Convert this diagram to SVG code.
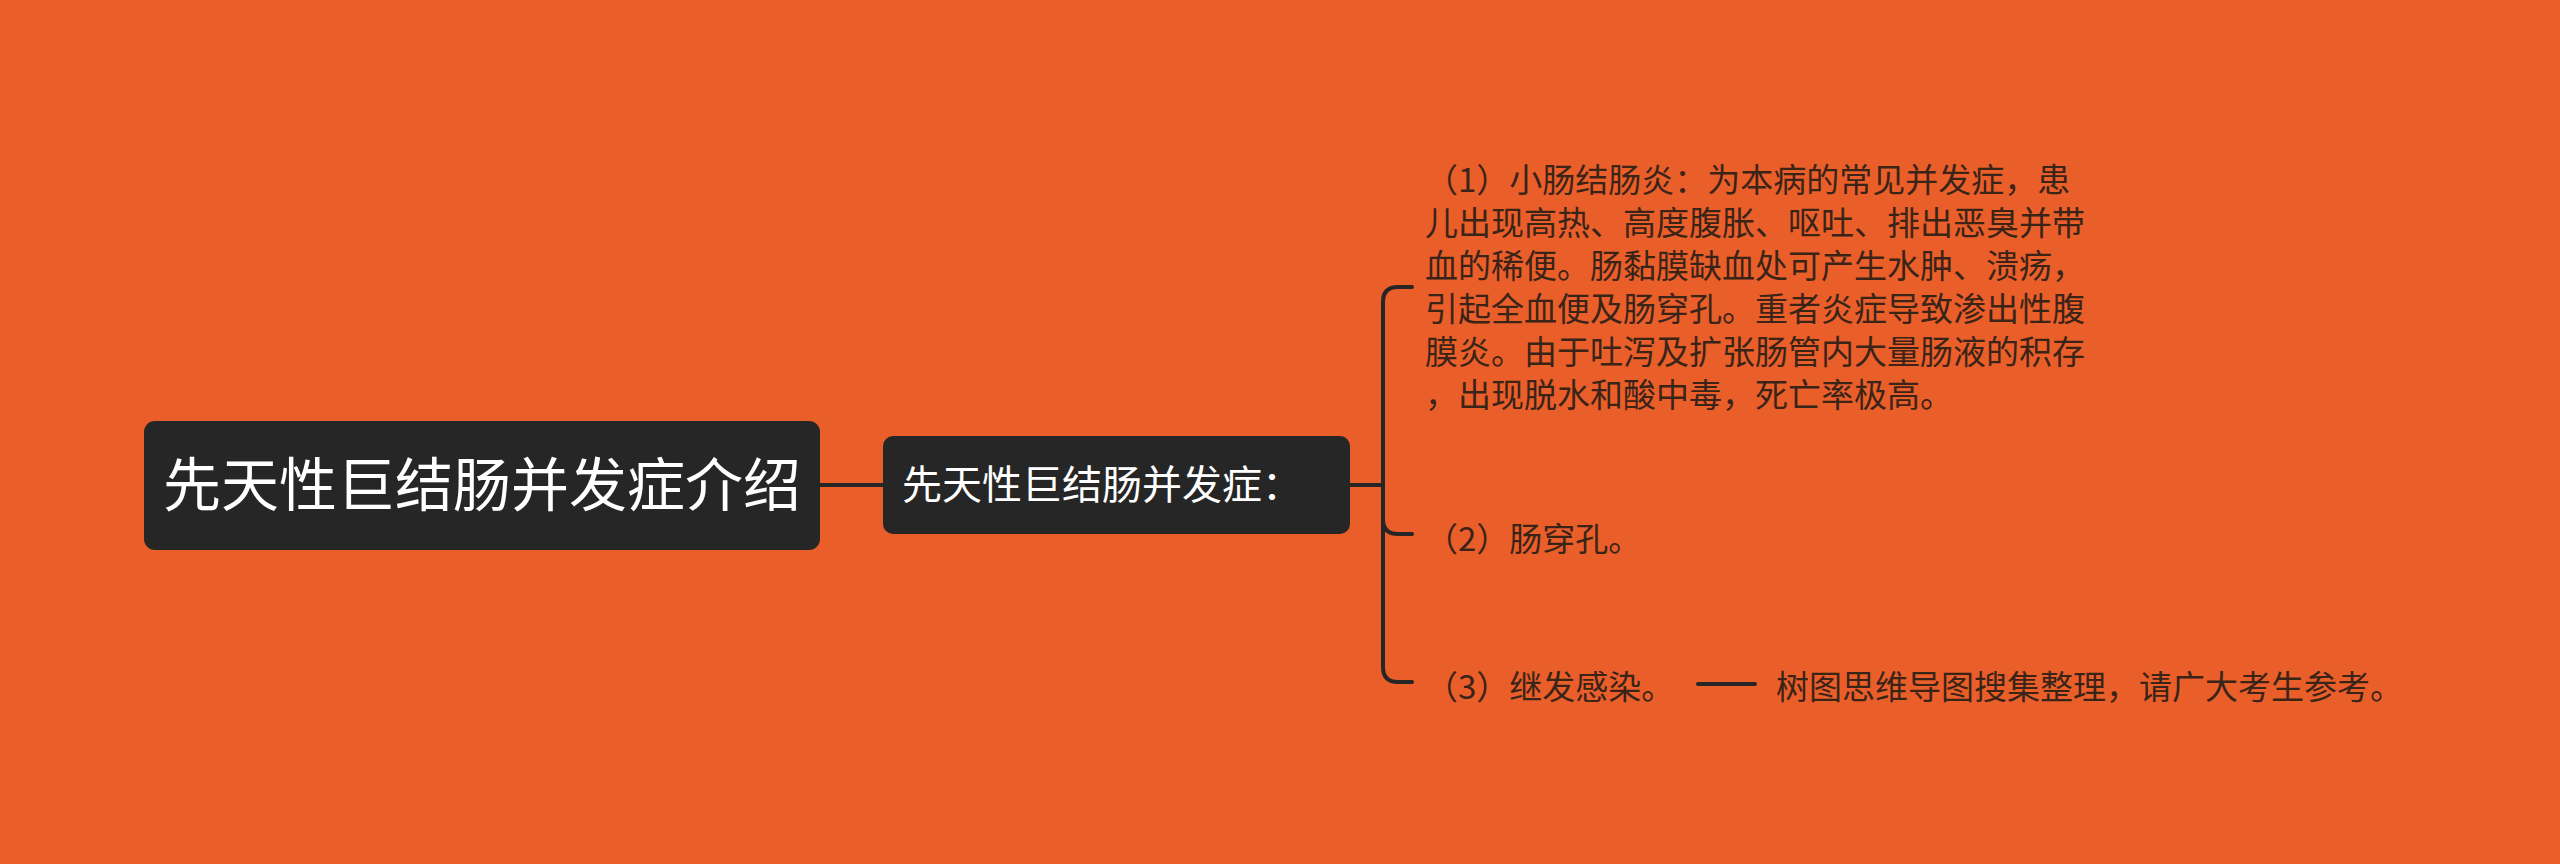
<svg xmlns="http://www.w3.org/2000/svg" width="2560" height="864" viewBox="0 0 2560 864">
<style>
.node{fill:#262626;}
.nt{fill:#ffffff;font-family:"Noto Sans CJK SC","Noto Sans",sans-serif;}
.lt{fill:#3a2418;font-family:"Noto Sans CJK SC","Noto Sans",sans-serif;font-size:33px;}
.conn{fill:none;stroke:#262626;stroke-width:4;stroke-linecap:round;}
</style>
<rect x="0" y="0" width="2560" height="864" fill="#EA5E2A"/>
<g id="connectors">
<path class="conn" d="M820,485 H883"/>
<path class="conn" d="M1350,485 H1383"/>
<path class="conn" d="M1383,485 V302 Q1383,287 1398,287 H1412"/>
<path class="conn" d="M1383,485 V519 Q1383,534 1398,534 H1412"/>
<path class="conn" d="M1383,485 V667 Q1383,682 1398,682 H1412"/>
<path class="conn" d="M1698,684 H1755" stroke-width="5.5" stroke-linecap="butt"/>
</g>
<g id="root">
<rect class="node" x="144" y="421" width="676" height="129" rx="11"/>
<text class="nt" x="482" y="506" font-size="58" text-anchor="middle">先天性巨结肠并发症介绍</text>
</g>
<g id="sub">
<rect class="node" x="883" y="436" width="467" height="98" rx="10"/>
<text class="nt" x="902" y="499" font-size="40">先天性巨结肠并发症：</text>
</g>
<g id="leaf1">
<text class="lt" x="1425" y="192">（1）小肠结肠炎：为本病的常见并发症，患</text>
<text class="lt" x="1425" y="235">儿出现高热、高度腹胀、呕吐、排出恶臭并带</text>
<text class="lt" x="1425" y="278">血的稀便。肠黏膜缺血处可产生水肿、溃疡，</text>
<text class="lt" x="1425" y="321">引起全血便及肠穿孔。重者炎症导致渗出性腹</text>
<text class="lt" x="1425" y="364">膜炎。由于吐泻及扩张肠管内大量肠液的积存</text>
<text class="lt" x="1425" y="407">，出现脱水和酸中毒，死亡率极高。</text>
</g>
<g id="leaf2">
<text class="lt" x="1425" y="551">（2）肠穿孔。</text>
</g>
<g id="leaf3">
<text class="lt" x="1425" y="699">（3）继发感染。</text>
</g>
<g id="note">
<text class="lt" x="1776" y="699">树图思维导图搜集整理，请广大考生参考。</text>
</g>
</svg>
